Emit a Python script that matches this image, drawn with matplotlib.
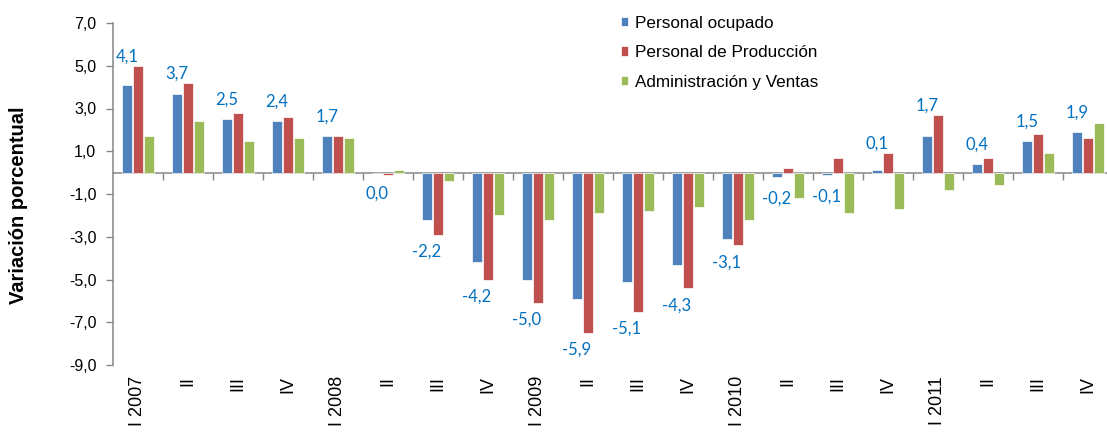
import matplotlib
matplotlib.use("Agg")
import matplotlib.pyplot as plt
import numpy as np

# quarterly variation (%), 2007-I .. 2011-IV
quarters = ["I 2007", "II", "III", "IV",
            "I 2008", "II", "III", "IV",
            "I 2009", "II", "III", "IV",
            "I 2010", "II", "III", "IV",
            "I 2011", "II", "III", "IV"]

personal_ocupado = [4.1, 3.7, 2.5, 2.4, 1.7, 0.0, -2.2, -4.2, -5.0, -5.9,
                    -5.1, -4.3, -3.1, -0.2, -0.1, 0.1, 1.7, 0.4, 1.5, 1.9]
personal_produccion = [5.0, 4.2, 2.8, 2.6, 1.7, -0.1, -2.9, -5.0, -6.1, -7.5,
                       -6.5, -5.4, -3.4, 0.2, 0.7, 0.9, 2.7, 0.7, 1.8, 1.6]
admin_ventas = [1.7, 2.4, 1.5, 1.6, 1.6, 0.1, -0.4, -2.0, -2.2, -1.9,
                -1.8, -1.6, -2.2, -1.2, -1.9, -1.7, -0.8, -0.6, 0.9, 2.3]

series_names = ["Personal ocupado", "Personal de Producción", "Administración y Ventas"]
colors = ["#4F81BD", "#C0504D", "#9BBB59"]
gray = "#868686"

plt.rcParams['font.family'] = ['Liberation Sans', 'DejaVu Sans']

fig = plt.figure(figsize=(11.07, 4.32), dpi=100)
ax = fig.add_axes([113/1107, (432-365)/432, 1000/1107, 342/432])

x = np.arange(len(quarters))
width = 0.2
offsets = [-0.22, 0.0, 0.22]
all_series = [personal_ocupado, personal_produccion, admin_ventas]

for vals, off, c, name in zip(all_series, offsets, colors, series_names):
    ax.bar(x + off, vals, width, color=c, edgecolor='white', linewidth=0.5, label=name)

# data labels for "Personal ocupado"
for i, (b, r) in enumerate(zip(personal_ocupado, personal_produccion)):
    if b > 0:
        y = max(b + 0.9, r + 0.45)
    else:
        y = min(b - 1.0, r - 0.8)
    ax.text(x[i] + offsets[0], y, f"{b:.1f}".replace('.', ','),
            ha='center', va='center', fontsize=12, color='#0070C0',
            family=['Lato', 'DejaVu Sans'])

ymin, ymax = -9, 7
ax.set_ylim(ymin, ymax)
ax.set_xlim(-0.5, len(quarters) - 0.5)
ax.set_yticks(np.arange(ymin, ymax + 1, 2))
ax.set_yticklabels([f"{v:.1f}".replace('.', ',') for v in np.arange(ymin, ymax + 1, 2)],
                   fontsize=11.5)
ax.set_xticks(x)
ax.set_xticklabels(quarters, rotation=90, fontsize=13, va='top', ha='center')
ax.tick_params(axis='x', length=0, pad=8)
ax.tick_params(axis='y', length=5, width=1, color=gray, pad=7)

for s in ['top', 'right', 'bottom']:
    ax.spines[s].set_visible(False)
ax.spines['left'].set_color(gray)
ax.spines['left'].set_linewidth(1.1)

ax.set_ylabel("Variación porcentual", fontsize=14.5, fontweight='bold')
ax.yaxis.set_label_coords(-0.085, 0.468)

# category axis line at zero with group separators
zero_frac = (0 - ymin) / (ymax - ymin)
sec = ax.secondary_xaxis(zero_frac)
sec.set_xticks(np.arange(0.5, len(quarters) - 0.5, 1))
sec.tick_params(axis='x', direction='in', length=5, width=1, color=gray,
                labeltop=False, labelbottom=False)
for s in sec.spines.values():
    s.set_color(gray)
    s.set_linewidth(1.1)

leg = fig.legend(loc='upper left', bbox_to_anchor=(612/1107, 1 - 7/432),
                 frameon=False, fontsize=12.3, handlelength=0.45, handleheight=0.45,
                 handletextpad=0.4, labelspacing=0.85, borderpad=0)

fig.savefig("out.png", dpi=100)
